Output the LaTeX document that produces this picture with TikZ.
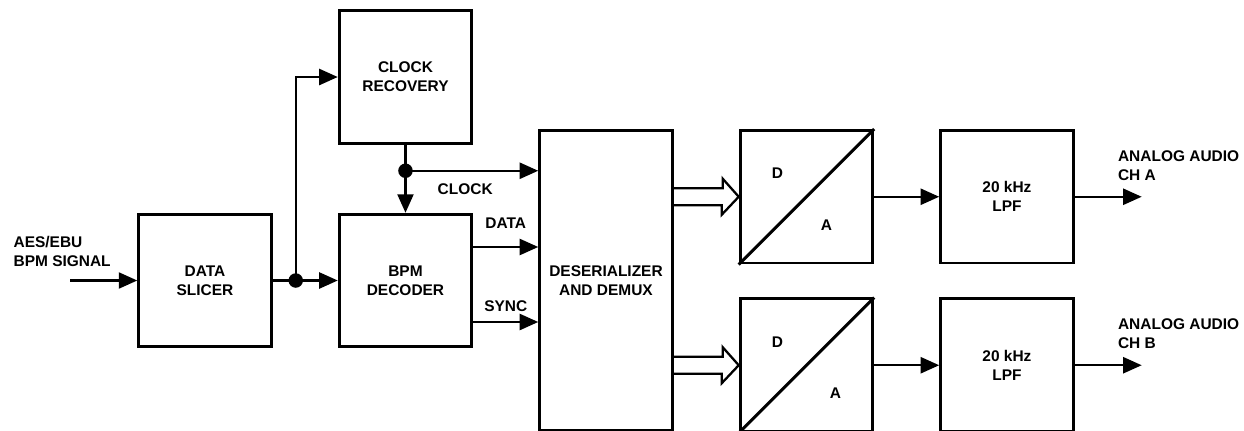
\documentclass[tikz,border=0pt]{standalone}
\usepackage{fontspec}
\setmainfont{Liberation Sans}
\usepackage{tikz}
\usetikzlibrary{arrows.meta,positioning,calc}
\newcommand{\blockfont}{\fontsize{8.8}{10.8}\selectfont\bfseries}
\tikzset{
  blockbox/.style={draw, line width=1.7pt, minimum width=2.65cm, minimum height=2.65cm, align=center, inner sep=2pt, font=\blockfont},
  boxline/.style={line width=1.7pt},
  sigarrow/.style={-{Triangle[length=3.7mm, width=3.2mm]}, line width=1.3pt},
  sigline/.style={line width=1.3pt},
  busline/.style={line width=1.3pt, line join=miter},
  sigdot/.style={circle, fill, inner sep=0pt, minimum size=2.9mm},
  siglabel/.style={font=\blockfont, inner sep=0pt}
}

\begin{document}
\begin{tikzpicture}
    \useasboundingbox (0,0) rectangle (24.88,-8.6);

    \node[blockbox] (slicer) at (4.1,-5.61) {DATA\\SLICER};
    \node[blockbox, right=1.3cm of slicer] (decoder) {BPM\\DECODER};
    \node[blockbox, above=1.36cm of decoder] (clockrec) {CLOCK\\RECOVERY};
    \node[blockbox, minimum height=6.0cm, right=1.3cm of decoder] (deser) {DESERIALIZER\\AND DEMUX};
    \node[blockbox, anchor=north west] (dacA) at ([xshift=1.3cm]deser.north east) {};
    \node[blockbox, below=0.66cm of dacA] (dacB) {};
    \node[blockbox, right=1.3cm of dacA] (lpfA) {20 kHz\\LPF};
    \node[blockbox, right=1.3cm of dacB] (lpfB) {20 kHz\\LPF};

    % input side
    \node[siglabel, align=left, anchor=west] (siglbl) at ([xshift=-2.48cm, yshift=0.58cm]slicer.west) {AES/EBU\\BPM SIGNAL};
    \coordinate (sigin) at ([xshift=-1.34cm]slicer.west);
    \draw[sigarrow] (sigin) -- (slicer);

    \draw[sigarrow] (slicer) -- (decoder);
    \node[sigdot] (split) at ([xshift=0.46cm]slicer.east) {};
    \draw[sigarrow] (split.center) |- (clockrec);

    % clock tap
    \node[sigdot] (tap) at ([yshift=-0.52cm]clockrec.south) {};
    \draw[sigline] (clockrec) -- (tap.center);
    \draw[sigarrow] (tap.center) -- (decoder);
    \draw[sigarrow] (tap.center) -- (tap -| deser.west)
      node[siglabel, below=7pt, pos=0.45] (clocklbl) {CLOCK};

    \draw[sigarrow] ([yshift=0.67cm]decoder.east) -- ([yshift=0.67cm]decoder.east -| deser.west)
      node[siglabel, above=10pt, midway] (datalbl) {DATA};
    \draw[sigarrow] ([yshift=-0.83cm]decoder.east) -- ([yshift=-0.83cm]decoder.east -| deser.west)
      node[siglabel, above=5.4pt, midway] (synclbl) {SYNC};

    % two output channels
    \foreach \ch/\ax in {A/0.4, B/0.58} {
      \draw[boxline] (dac\ch.south west) -- (dac\ch.north east);
      \node[siglabel] (dlbl\ch) at ([xshift=-0.58cm, yshift=0.47cm]dac\ch.center) {D};
      \node[siglabel] (albl\ch) at ([xshift=\ax cm, yshift=-0.56cm]dac\ch.center) {A};
      \draw[busline] ($(deser.east |- dac\ch.west)+(0,0.17)$) -- ++(0.98,0) -- ++(0,0.19)
        -- (dac\ch.west) -- ++(-0.34,-0.36) -- ++(0,0.19) -- ($(deser.east |- dac\ch.west)+(0,-0.17)$);
      \draw[sigarrow] (dac\ch) -- (lpf\ch);
      \coordinate (out\ch) at ([xshift=1.34cm]lpf\ch.east);
      \draw[sigarrow] (lpf\ch) -- (out\ch);
      \node[siglabel, align=left, anchor=west] (outlbl\ch) at ([xshift=0.86cm, yshift=0.63cm]lpf\ch.east) {ANALOG AUDIO\\CH \ch};
    }
\end{tikzpicture}
\end{document}
